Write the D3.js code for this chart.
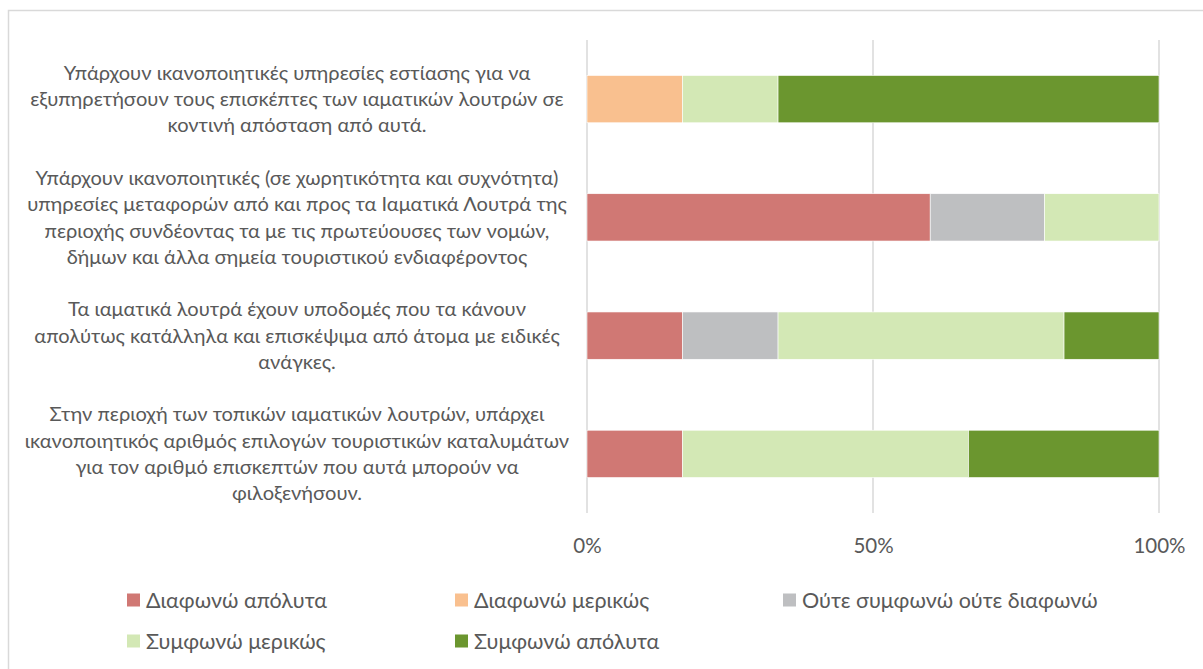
<!DOCTYPE html>
<html>
<head>
<meta charset="utf-8">
<script src="https://cdn.jsdelivr.net/npm/d3@7"></script>
<style>
  html, body { margin: 0; padding: 0; background: #fff; }
  svg { display: block; }
  text { font-family: Lato, "Open Sans", sans-serif; fill: #595959; }
</style>
</head>
<body>
<svg id="chart" width="1203" height="669"></svg>
<script>
// ---- data ----
const categories = [
  ["Υπάρχουν ικανοποιητικές υπηρεσίες εστίασης για να", "εξυπηρετήσουν τους επισκέπτες των ιαματικών λουτρών σε", "κοντινή απόσταση από αυτά."],
  ["Υπάρχουν ικανοποιητικές (σε χωρητικότητα και συχνότητα)", "υπηρεσίες μεταφορών από και προς τα Ιαματικά Λουτρά της", "περιοχής συνδέοντας τα με τις πρωτεύουσες των νομών,", "δήμων και άλλα σημεία τουριστικού ενδιαφέροντος"],
  ["Τα ιαματικά λουτρά έχουν υποδομές που τα κάνουν", "απολύτως κατάλληλα και επισκέψιμα από άτομα με ειδικές", "ανάγκες."],
  ["Στην περιοχή των τοπικών ιαματικών λουτρών, υπάρχει", "ικανοποιητικός αριθμός επιλογών τουριστικών καταλυμάτων", "για τον αριθμό επισκεπτών που αυτά μπορούν να", "φιλοξενήσουν."]
];
const seriesNames = ["Διαφωνώ απόλυτα", "Διαφωνώ μερικώς", "Ούτε συμφωνώ ούτε διαφωνώ", "Συμφωνώ μερικώς", "Συμφωνώ απόλυτα"];
const seriesColors = ["#D07874", "#F9C08F", "#BEBFC1", "#D3E8B5", "#6B962F"];
// share (%) per category, in series order
const diafonoApolyta = [0, 60, 16.7, 16.7];
const diafonoMerikos = [16.7, 0, 0, 0];
const oute = [0, 20, 16.7, 0];
const symfonoMerikos = [16.7, 20, 50, 50];
const symfonoApolyta = [66.6, 0, 16.6, 33.3];
const tickValues = [0, 0.5, 1];

const seriesValues = [diafonoApolyta, diafonoMerikos, oute, symfonoMerikos, symfonoApolyta];

// ---- layout ----
const svg = d3.select("#chart");
const plot = { left: 587, right: 1159, top: 40, bottom: 513 };

// outer chart border
svg.append("rect")
  .attr("x", 8.5).attr("y", 10.5)
  .attr("width", 1220).attr("height", 700)
  .attr("fill", "none").attr("stroke", "#D9D9D9").attr("stroke-width", 1.5);

const x = d3.scaleLinear().domain([0, 1]).range([plot.left, plot.right]);
const y = d3.scaleBand().domain(d3.range(categories.length)).range([plot.top, plot.bottom]).paddingInner(0.6).paddingOuter(0.3);

// gridlines
svg.append("g").selectAll("line").data(tickValues).join("line")
  .attr("x1", d => x(d)).attr("x2", d => x(d))
  .attr("y1", plot.top).attr("y2", plot.bottom)
  .attr("stroke", "#D9D9D9").attr("stroke-width", 1.5);

// stack
const rows = categories.map((c, i) => {
  const o = { idx: i };
  const tot = d3.sum(seriesValues, s => s[i]);
  seriesNames.forEach((n, k) => o[n] = seriesValues[k][i] / tot);
  return o;
});
const stack = d3.stack().keys(seriesNames)(rows);

svg.append("g").selectAll("g").data(stack).join("g")
  .attr("fill", (d, k) => seriesColors[k])
  .selectAll("rect").data(d => d).join("rect")
  .attr("x", d => x(d[0]))
  .attr("width", d => Math.max(0, x(d[1]) - x(d[0])))
  .attr("y", d => y(d.data.idx))
  .attr("height", y.bandwidth())
  .attr("stroke", "#fff").attr("stroke-width", d => (d[1] - d[0]) > 0 ? 0.6 : 0);

// x axis labels
const xAxis = d3.axisBottom(x).tickValues(tickValues).tickFormat(d3.format(".0%")).tickSize(0).tickPadding(0);
const gx = svg.append("g").attr("transform", `translate(0, ${plot.bottom + 40})`).call(xAxis);
gx.select(".domain").remove();
gx.selectAll("text").attr("font-size", 20.5).attr("dy", 0).attr("fill", "#595959")
  .style("font-family", "Lato, 'Open Sans', sans-serif");

// category labels
const lineH = 26.3;
const labelX = 297;
categories.forEach((lines, i) => {
  const cy = y(i) + y.bandwidth() / 2;
  const t = svg.append("text").attr("text-anchor", "middle").attr("font-size", 20.1);
  lines.forEach((ln, j) => {
    t.append("tspan").attr("x", labelX)
      .attr("y", cy + (j - (lines.length - 1) / 2) * lineH)
      .attr("dy", "0.35em").text(ln);
  });
});

// legend
const legendPos = [[127, 600], [455, 600], [783, 600], [127, 641], [455, 641]];
const lg = svg.append("g").selectAll("g").data(seriesNames).join("g")
  .attr("transform", (d, i) => `translate(${legendPos[i][0]}, ${legendPos[i][1]})`);
lg.append("rect").attr("x", 0).attr("y", -6.5).attr("width", 13).attr("height", 13)
  .attr("fill", (d, i) => seriesColors[i]);
lg.append("text").attr("x", 19).attr("y", 0).attr("dy", "0.35em").attr("font-size", 21.5).text(d => d);
</script>
</body>
</html>
